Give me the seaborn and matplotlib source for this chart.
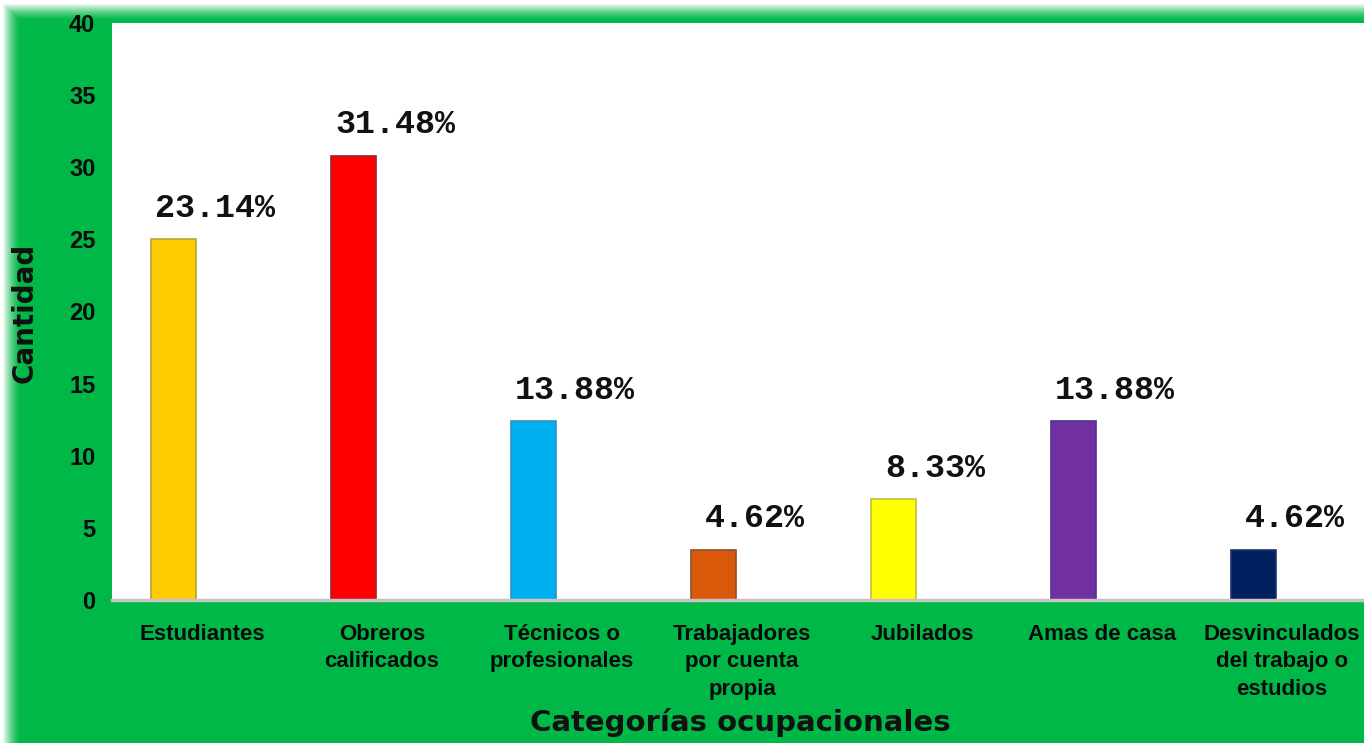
import numpy as np
import pandas as pd
import matplotlib
matplotlib.use("Agg")
import matplotlib.pyplot as plt
import seaborn as sns

# ---- data ----
categorias = ["Estudiantes", "Obreros\ncalificados", "Técnicos o\nprofesionales",
              "Trabajadores\npor cuenta\npropia", "Jubilados", "Amas de casa",
              "Desvinculados\ndel trabajo o\nestudios"]
cantidad = [25, 30.8, 12.4, 3.5, 7.0, 12.4, 3.5]
porcentajes = ["23.14%", "31.48%", "13.88%", "4.62%", "8.33%", "13.88%", "4.62%"]
colores = ["#FFCC00", "#FF0000", "#00B0F0", "#D9580A", "#FFFF00", "#7030A0", "#002060"]
bordes = ["#B8A040", "#A02030", "#3090C0", "#8A5030", "#C0C040", "#5030A0", "#203070"]
yticks = [0, 5, 10, 15, 20, 25, 30, 35, 40]

df = pd.DataFrame({"categoria": categorias, "cantidad": cantidad})

sns.set_theme(style="white")
plt.rcParams["font.family"] = ["Liberation Sans", "DejaVu Sans"]

GREEN = "#00B847"
W, H = 1364, 743
fig = plt.figure(figsize=(W / 100, H / 100), dpi=100, facecolor=GREEN)

# soft white glow at top and left edges
bg = fig.add_axes([0, 0, 1, 1], zorder=-10)
yy = np.arange(H)[:, None].astype(float)
xx = np.arange(W)[None, :].astype(float)
a_top = np.clip(1 - (yy - 3) / 17, 0, 1)
a_left = np.clip(1 - (xx - 2) / 18, 0, 1)
alpha = np.maximum(a_top, a_left) ** 1.4
img = np.ones((H, W, 4))
img[..., 3] = alpha
bg.imshow(img, aspect="auto", extent=[0, 1, 0, 1], origin="upper", interpolation="bilinear")
bg.set_xlim(0, 1); bg.set_ylim(0, 1)
bg.axis("off")

ax = fig.add_axes([112 / W, 143 / H, 1260 / W, 577 / H])
ax.set_facecolor("white")

sns.barplot(data=df, x="categoria", y="cantidad", hue="categoria", palette=colores,
            width=0.25, saturation=1, legend=False, ax=ax, linewidth=1.2)
for patch, ec in zip(ax.patches, bordes):
    patch.set_x(patch.get_x() - 0.16)
    patch.set_edgecolor(ec)

ax.set_xlim(-0.5, len(categorias) - 0.5)
ax.set_ylim(0, 40)
ax.set_yticks(yticks)
ax.set_yticklabels([str(t) for t in yticks])

for i, (h, p) in enumerate(zip(cantidad, porcentajes)):
    ax.annotate(p, xy=(i, h), xytext=(13, 31), textcoords="offset pixels",
                ha="center", va="center", fontsize=24, fontweight="bold",
                family=["Liberation Mono", "DejaVu Sans Mono"], color="#111111")

for s in ["top", "left", "right"]:
    ax.spines[s].set_visible(False)
ax.spines["bottom"].set_color("#C4C4C4")
ax.spines["bottom"].set_linewidth(2.5)

ax.tick_params(axis="x", length=0, pad=17)
ax.tick_params(axis="y", length=0, pad=12)
for lab in ax.get_xticklabels():
    lab.set_fontsize(16)
    lab.set_fontweight("bold")
    lab.set_color("#0A0A0A")
    lab.set_linespacing(1.42)
for lab in ax.get_yticklabels():
    lab.set_fontsize(17)
    lab.set_fontweight("bold")
    lab.set_color("#0A0A0A")

ax.set_xlabel("Categorías ocupacionales", fontsize=21, fontweight="bold",
              family=["DejaVu Sans"], color="#111111")
ax.set_ylabel("Cantidad", fontsize=20, fontweight="bold",
              family=["DejaVu Sans"], color="#111111")
ax.xaxis.set_label_coords(0.499, -0.213)
ax.xaxis.label.set_va("center")
ax.yaxis.set_label_coords(-0.069, 0.497)
ax.yaxis.label.set_va("center")

fig.savefig("out.png", dpi=100, facecolor=GREEN)
